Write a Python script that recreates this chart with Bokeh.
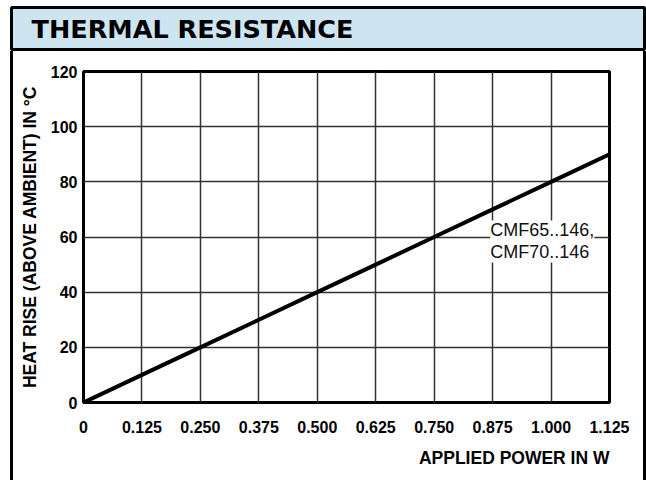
from bokeh.plotting import figure
from bokeh.models import Range1d, FixedTicker, Label, Title, Spacer
from bokeh.layouts import column, row
from bokeh.embed import file_html
from bokeh.resources import INLINE

# ---- data ----
power_w = [0, 0.125, 0.25, 0.375, 0.5, 0.625, 0.75, 0.875, 1.0, 1.125]
heat_rise_c = [0, 10, 20, 30, 40, 50, 60, 70, 80, 90]
x_ticks = [0, 0.125, 0.25, 0.375, 0.5, 0.625, 0.75, 0.875, 1.0, 1.125]
x_tick_labels = ["0", "0.125", "0.250", "0.375", "0.500", "0.625",
                 "0.750", "0.875", "1.000", "1.125"]
y_ticks = [0, 20, 40, 60, 80, 100, 120]
title_text = "THERMAL RESISTANCE"
x_label = "APPLIED POWER IN W"
y_label = "HEAT RISE (ABOVE AMBIENT) IN °C"
series_label = "CMF65..146,\nCMF70..146"

FONT = "Liberation Sans"
HEADER_BG = "#cde4f1"

# ---- header band ----
hdr = figure(width=646, height=51, output_backend="svg", toolbar_location=None,
             x_range=Range1d(0, 633), y_range=Range1d(0, 42),
             x_axis_location=None, y_axis_location=None,
             min_border_left=11, min_border_right=2,
             min_border_top=7, min_border_bottom=2,
             background_fill_color=HEADER_BG, border_fill_color="white")
hdr.grid.visible = False
hdr.outline_line_color = "black"
hdr.outline_line_width = 3
hdr.outline_line_alpha = 1.0
hdr.add_layout(Label(x=20, y=20.3, text=title_text, text_font="DejaVu Sans",
                     text_font_style="bold", text_font_size="25.5px",
                     text_color="black",
                     text_align="left", text_baseline="middle"))

# ---- main chart ----
p = figure(width=630, height=429, output_backend="svg", toolbar_location=None,
           x_range=Range1d(0, 1.125), y_range=Range1d(0, 120),
           min_border_left=70, min_border_right=34,
           min_border_top=20, min_border_bottom=78,
           background_fill_color="white", border_fill_color="white")

p.xgrid.ticker = FixedTicker(ticks=x_ticks)
p.ygrid.ticker = FixedTicker(ticks=y_ticks)
for g in (p.xgrid, p.ygrid):
    g.grid_line_color = "#333333"
    g.grid_line_width = 1.5
    g.grid_line_alpha = 1.0

p.outline_line_color = "black"
p.outline_line_width = 3
p.outline_line_alpha = 1.0

p.xaxis.ticker = FixedTicker(ticks=x_ticks)
p.yaxis.ticker = FixedTicker(ticks=y_ticks)
p.xaxis.major_label_overrides = {t: s for t, s in zip(x_ticks, x_tick_labels)}
for ax in (p.xaxis, p.yaxis):
    ax.axis_line_color = None
    ax.major_tick_line_color = None
    ax.minor_tick_line_color = None
    ax.major_tick_out = 0
    ax.major_tick_in = 0
    ax.minor_tick_out = 0
    ax.minor_tick_in = 0
    ax.major_label_text_font = FONT
    ax.major_label_text_font_style = "bold"
    ax.major_label_text_font_size = "16px"
    ax.major_label_text_color = "black"
p.xaxis.major_label_standoff = 18
p.yaxis.major_label_standoff = 6
p.yaxis.axis_label = y_label
p.yaxis.axis_label_text_font = FONT
p.yaxis.axis_label_text_font_style = "bold"
p.yaxis.axis_label_text_font_size = "17.5px"
p.yaxis.axis_label_text_color = "black"
p.yaxis.axis_label_standoff = 8

# x axis title, right-aligned under the frame
p.add_layout(Title(text=x_label, align="right", text_font=FONT,
                   text_font_style="bold", text_font_size="17.5px",
                   text_color="black", standoff=20), "below")

# data line
p.line(power_w, heat_rise_c, line_color="black", line_width=4)

# series label with white box
p.add_layout(Label(x=0.87, y=66, text=series_label, text_font=FONT,
                   text_font_size="18px", text_color="#111111",
                   text_align="left", text_baseline="top",
                   text_line_height=1.1,
                   background_fill_color="white", background_fill_alpha=1.0))

# side borders of the outer box
left_pad = Spacer(width=10, height=429)
left_bar = Spacer(width=3, height=429, styles={"background-color": "black"})
right_bar = Spacer(width=3, height=429, styles={"background-color": "black"})

layout = column(hdr, row(left_pad, left_bar, p, right_bar))

open("out.html", "w").write(file_html(layout, INLINE))
